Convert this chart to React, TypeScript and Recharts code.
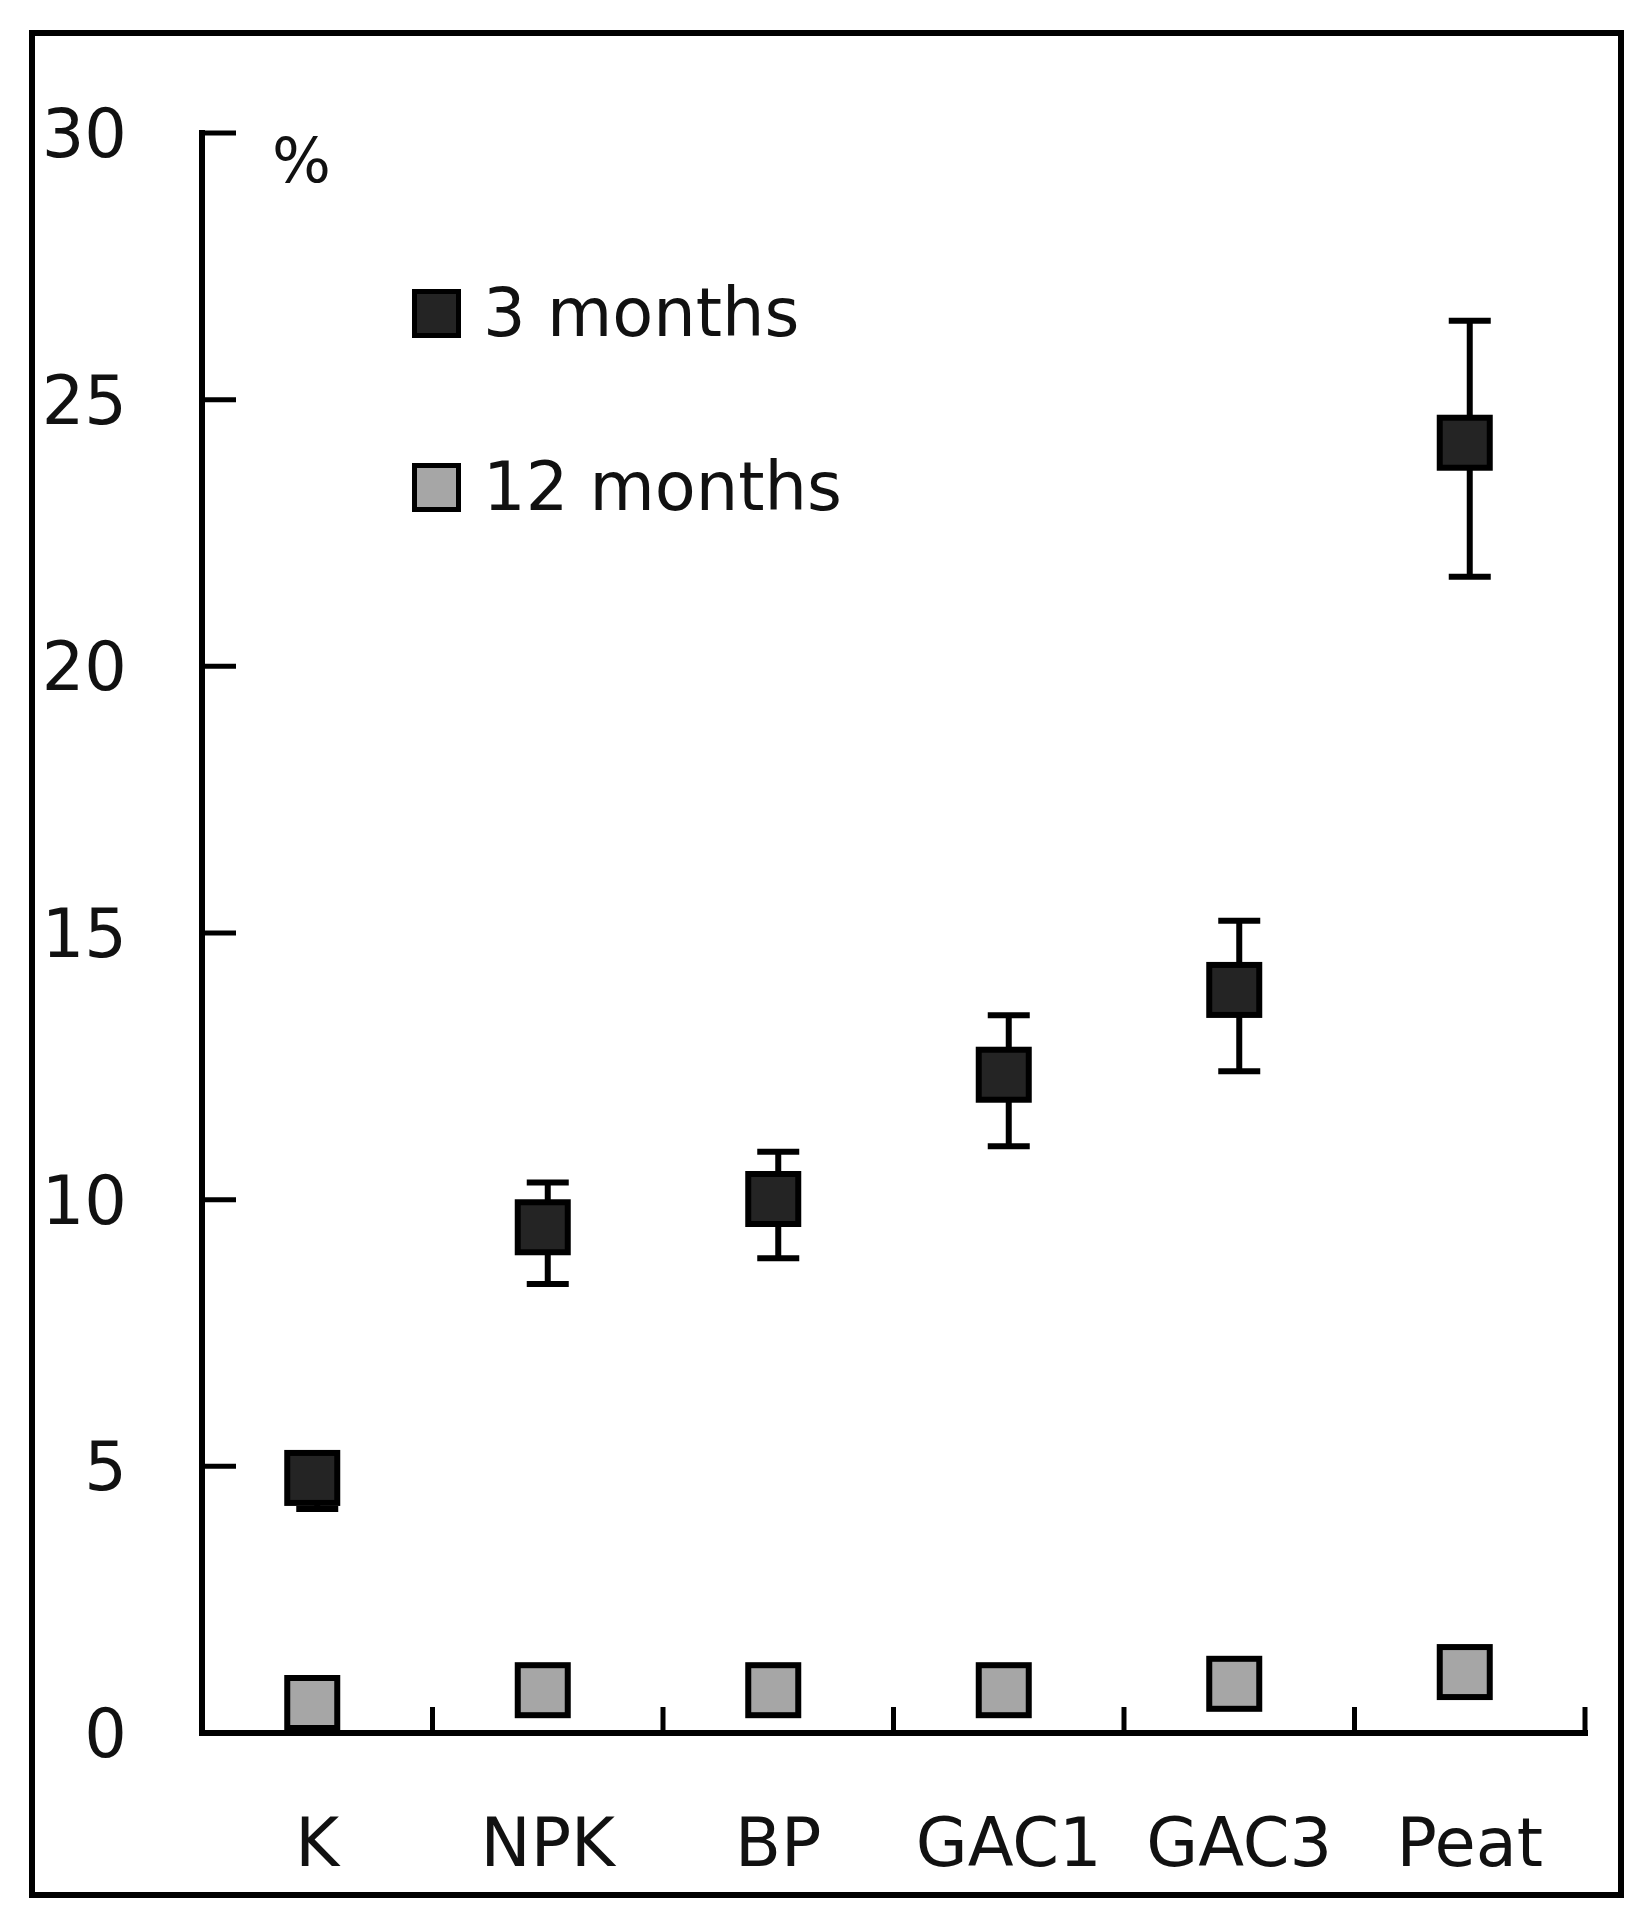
import React from "react";
import { ComposedChart, Scatter, XAxis, YAxis, ErrorBar, Legend } from "recharts";

const categories = ["K", "NPK", "BP", "GAC1", "GAC3", "Peat"];
const threeMonths = [4.67, 9.37, 9.9, 12.23, 13.82, 24.08];
const threeMonthsErr = [0.47, 0.95, 1.0, 1.23, 1.41, 2.4];
const twelveMonths = [0.45, 0.69, 0.69, 0.69, 0.81, 1.03];
const yTicks = [0, 5, 10, 15, 20, 25, 30];
const seriesNames = ["3 months", "12 months"];

const FONT = "'DejaVu Sans', Verdana, sans-serif";
const INK = "#111";

// numeric x axis 0..n: integer ticks are the category boundaries, halves carry the names
const xTicks = categories.flatMap((_, i) => [i, i + 0.5]).concat(categories.length);

const data3 = categories.map((c, i) => ({ name: c, x: i + 0.5, y: threeMonths[i], err: threeMonthsErr[i] }));
const data12 = categories.map((c, i) => ({ name: c, x: i + 0.5, y: twelveMonths[i] }));

function XTick(props: any) {
  const { x, y, payload } = props;
  const v = payload.value;
  if (Number.isInteger(v)) {
    return <line x1={x} x2={x} y1={y} y2={y - 26} stroke="#000" strokeWidth={5} />;
  }
  return (
    <text x={x} y={y + 133} textAnchor="middle" fontFamily={FONT} fontSize={67} fill={INK}>
      {categories[Math.floor(v)]}
    </text>
  );
}

function YTick(props: any) {
  const { x, y, payload } = props;
  return (
    <g>
      <line x1={x} x2={x + 34} y1={y} y2={y} stroke="#000" strokeWidth={5} />
      <text x={x - 75} y={y} dy="0.36em" textAnchor="end" fontFamily={FONT} fontSize={67} fill={INK}>
        {payload.value}
      </text>
    </g>
  );
}

// the original plot draws its markers a few px up and left of the error bar centre
function Square(props: any) {
  const { cx, cy, fill } = props;
  return <rect x={cx - 5 - 25} y={cy - 6 - 25} width={50} height={50} fill={fill} stroke="#000" strokeWidth={6} />;
}

function LegendContent(props: any) {
  const payload = [...(props.payload || [])].sort(
    (a: any, b: any) => seriesNames.indexOf(a.value) - seriesNames.indexOf(b.value)
  );
  return (
    <div style={{ position: "relative" }}>
      {payload.map((entry: any, i: number) => (
        <div
          key={entry.value}
          style={{
            position: "absolute",
            top: i * 174,
            left: 0,
            height: 67,
            display: "flex",
            alignItems: "center",
            whiteSpace: "nowrap",
          }}
        >
          <div style={{ width: 39, height: 39, background: entry.color, border: "5px solid #000" }} />
          <span style={{ marginLeft: 22, fontFamily: FONT, fontSize: 67, lineHeight: 1, color: INK }}>
            {entry.value}
          </span>
        </div>
      ))}
    </div>
  );
}

export default function App() {
  return (
    <div style={{ position: "relative", width: 1639, height: 1911 }}>
      <div
        style={{
          position: "absolute",
          left: 21,
          top: 22,
          width: 1595,
          height: 1868,
          border: "6px solid #000",
          boxSizing: "border-box",
        }}
      />
      <div style={{ position: "absolute", left: 0, top: 0 }}>
        <ComposedChart width={1639} height={1911} margin={{ top: 125, right: 62, bottom: 0, left: 0 }}>
          <XAxis
            type="number"
            dataKey="x"
            domain={[0, categories.length]}
            ticks={xTicks}
            interval={0}
            height={186}
            tickSize={0}
            tickMargin={0}
            tickLine={false}
            tick={<XTick />}
            axisLine={{ stroke: "#000", strokeWidth: 6, strokeLinecap: "square" }}
          />
          <YAxis
            type="number"
            dataKey="y"
            domain={[0, 30]}
            ticks={yTicks}
            interval={0}
            width={194}
            tickSize={0}
            tickMargin={0}
            tickLine={false}
            tick={<YTick />}
            axisLine={{ stroke: "#000", strokeWidth: 6, strokeLinecap: "square" }}
          />
          <Legend
            layout="vertical"
            align="center"
            verticalAlign="middle"
            wrapperStyle={{ top: 272, left: 404 }}
            content={<LegendContent />}
          />
          <Scatter name={seriesNames[0]} data={data3} fill="#242424" shape={<Square />} isAnimationActive={false}>
            <ErrorBar dataKey="err" direction="y" width={21} stroke="#000" strokeWidth={6} />
          </Scatter>
          <Scatter name={seriesNames[1]} data={data12} fill="#a6a6a6" shape={<Square />} isAnimationActive={false} />
        </ComposedChart>
      </div>
      <div
        style={{
          position: "absolute",
          left: 264,
          top: 122,
          fontFamily: FONT,
          fontSize: 62,
          lineHeight: 1,
          color: INK,
        }}
      >
        %
      </div>
    </div>
  );
}
